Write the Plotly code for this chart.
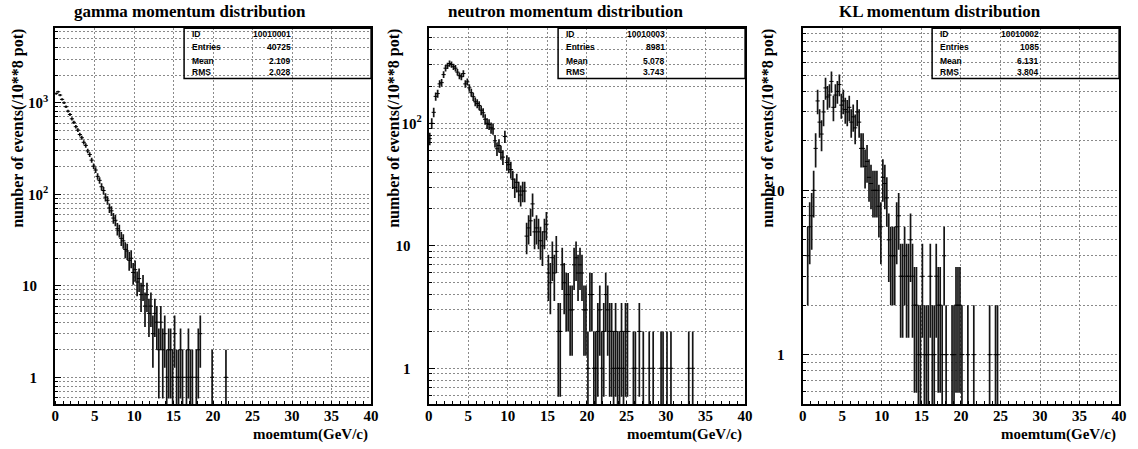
import numpy as np
import plotly.graph_objects as go

# ---------------- data ----------------
BIN_WIDTH = 0.25  # GeV/c, 160 bins on 0..40

titles = ["gamma momentum distribution", "neutron momentum distribution", "KL momentum distribution"]
hist_ids = ["10010001", "10010003", "10010002"]
entries = ["40725", "8981", "1085"]
means = ["2.109", "5.078", "6.131"]
rms_vals = ["2.028", "3.743", "3.804"]
x_title = "moemtum(GeV/c)"
y_title = "number of events(/10**8 pot)"
x_tick_vals = [0, 5, 10, 15, 20, 25, 30, 35, 40]

gamma_counts = [
    1260, 1320, 1215, 1090, 1000, 905, 810, 745, 668, 612, 548, 503, 450, 415, 370, 342,
    298, 272, 236, 203, 184, 157, 142, 121, 110, 93, 86, 71, 66, 55, 52, 42,
    40, 33, 31, 25, 24, 19, 20, 14, 15, 11, 12, 8, 10, 6, 8, 5,
    6, 3, 5, 4, 2, 4, 2, 3, 1, 2, 2, 1, 3, 1, 1, 2,
    1, 0, 1, 2, 1, 1, 0, 1, 2, 3, 0, 0, 0, 0, 0, 1,
    0, 0, 0, 0, 0, 0, 1,
]
neutron_counts = [
    75, 100, 123, 166, 175, 210, 215, 250, 282, 295, 308, 302, 290, 282, 262, 245,
    240, 255, 210, 218, 195, 178, 165, 150, 145, 140, 128, 122, 108, 100, 98, 92,
    90, 72, 62, 66, 58, 53, 78, 48, 46, 42, 35, 30, 33, 28, 26, 28,
    28, 12, 14, 16, 22, 13, 14, 13, 11, 10, 13, 15, 6, 5, 8, 6,
    9, 2, 2, 7, 5, 4, 4, 3, 3, 7, 8, 6, 7, 6, 3, 3,
    1, 4, 4, 1, 1, 2, 3, 1, 2, 4, 3, 2, 2, 1, 2, 1,
    1, 2, 1, 2, 2, 0, 0, 1, 1, 0, 2, 0, 1, 0, 0, 1,
    0, 1, 0, 0, 0, 1, 1, 0, 1, 0, 1, 0, 0, 0, 0, 0,
    0, 0, 0, 1, 0, 1,
]
kl_counts = [
    0, 0, 4, 6, 7, 10, 18, 35, 26, 22, 30, 42, 37, 38, 46, 32,
    38, 40, 44, 33, 35, 31, 30, 32, 26, 28, 24, 30, 26, 18, 18, 14,
    15, 12, 11, 10, 10, 10, 8, 6, 12, 11, 9, 5, 4, 4, 4, 6,
    7, 3, 3, 4, 3, 3, 5, 3, 2, 2, 1, 1, 3, 1, 1, 1,
    3, 1, 1, 3, 2, 2, 1, 4, 1, 0, 0, 1, 1, 2, 2, 2,
    1, 0, 0, 1, 0, 0, 1, 0, 0, 0, 0, 0, 0, 0, 1, 0, 0, 1, 1,
]
all_counts = [gamma_counts, neutron_counts, kl_counts]

# ---------------- layout constants ----------------
W, H = 1138, 449
x_dom_px = [(51.7, 371.0), (429.3, 749.0), (807.3, 1127.0)]
y_top_px, y_bot_px = 28.3, 404.3
y_log_ranges = [(-0.295, 3.814), (-0.294, 2.776), (-0.302, 1.986)]
title_cx = [188, 567, 946]
ytitle_x = [14, 394, 772]
SERIF = "Liberation Serif"
SANS = "Liberation Sans"
GRID = "#8a8a8a"
DASH = "2px,2px"
PAD = "\u00a0\u00a0\u00a0"

fig = go.Figure()


def log_ticks(lo, hi):
    major, text, minor = [], [], []
    for d in range(-1, 5):
        for m in range(1, 10):
            v = m * 10.0 ** d
            lv = np.log10(v)
            if lv < lo - 1e-9 or lv > hi + 1e-9:
                continue
            if m == 1:
                major.append(v)
                if d <= 0:
                    text.append("1" + PAD)
                elif d == 1:
                    text.append("10" + PAD)
                else:
                    text.append("10<sup>%d</sup>" % d)
            else:
                minor.append(v)
    return major, text, minor


for k in range(3):
    counts = np.array(all_counts[k], dtype=float)
    centers = (np.arange(len(counts)) + 0.5) * BIN_WIDTH
    mask = counts > 0
    xs = centers[mask]
    ys = counts[mask]
    errs = np.sqrt(ys)
    ax = "" if k == 0 else str(k + 1)
    fig.add_trace(go.Scatter(
        x=xs, y=ys, mode="markers",
        xaxis="x" + ax, yaxis="y" + ax,
        marker=dict(symbol="line-ew", size=3, color="black",
                    line=dict(color="black", width=1)),
        error_y=dict(type="data", array=errs, symmetric=True, width=0,
                     thickness=1.7, color="#151515"),
        showlegend=False, hoverinfo="skip",
    ))

    x0, x1 = x_dom_px[k]
    lo, hi = y_log_ranges[k]
    major, text, minor = log_ticks(lo, hi)
    fig.layout["xaxis" + ax] = dict(
        domain=[x0 / W, x1 / W], range=[0, 40], anchor="y" + ax,
        tickmode="array", tickvals=x_tick_vals,
        ticks="", showgrid=True, gridcolor=GRID, griddash=DASH, gridwidth=1,
        minor=dict(tickmode="linear", tick0=0, dtick=1, ticks="inside",
                   ticklen=3, tickcolor="black", tickwidth=1, showgrid=False),
        showline=True, linecolor="black", linewidth=2, mirror=True,
        zeroline=False,
        tickfont=dict(family=SERIF, size=15, color="black", weight="bold"),
        ticklabelstandoff=-3,
    )
    fig.layout["yaxis" + ax] = dict(
        domain=[(H - y_bot_px) / H, (H - y_top_px) / H], type="log",
        range=[lo, hi], anchor="x" + ax,
        tickmode="array", tickvals=major, ticktext=text,
        ticks="inside", ticklen=6, tickcolor="black", tickwidth=1,
        showgrid=True, gridcolor=GRID, griddash=DASH, gridwidth=1,
        minor=dict(tickmode="array", tickvals=minor, ticks="inside",
                   ticklen=3, tickcolor="black", tickwidth=1,
                   showgrid=True, gridcolor=GRID, griddash=DASH, gridwidth=1),
        showline=True, linecolor="black", linewidth=2, mirror=True,
        zeroline=False,
        tickfont=dict(family=SERIF, size=15, color="black", weight="bold"),
        ticklabelstandoff=2,
    )

    # panel title
    fig.add_annotation(x=title_cx[k] / W, y=(H - 12) / H, xref="paper", yref="paper",
                       text=titles[k], showarrow=False, xanchor="center", yanchor="middle",
                       font=dict(family=SERIF, size=17, color="black", weight="bold"))
    # x title
    fig.add_annotation(x=(x1 - 1) / W, y=(H - 434) / H, xref="paper", yref="paper",
                       text=x_title, showarrow=False, xanchor="right", yanchor="middle",
                       font=dict(family=SERIF, size=15, color="black", weight="bold"))
    # y title
    fig.add_annotation(x=ytitle_x[k] / W, y=(H - 128) / H, xref="paper", yref="paper",
                       text=y_title, showarrow=False, textangle=-90,
                       xanchor="center", yanchor="middle",
                       font=dict(family=SERIF, size=16, color="black", weight="bold"))

    # statistics box
    bx0 = x1 - 189
    by1 = 78.5
    fig.add_shape(type="rect", xref="paper", yref="paper",
                  x0=bx0 / W, x1=x1 / W, y0=(H - by1) / H, y1=(H - y_top_px) / H,
                  line=dict(color="black", width=1.5), fillcolor="rgba(0,0,0,0)")
    labels = ["ID", "Entries", "Mean", "RMS"]
    values = [hist_ids[k], entries[k], means[k], rms_vals[k]]
    rows_y = [34, 47, 60.5, 72]
    for lab, val, ry in zip(labels, values, rows_y):
        fig.add_annotation(x=(bx0 + 6) / W, y=(H - ry) / H, xref="paper", yref="paper",
                           text=lab, showarrow=False, xanchor="left", yanchor="middle",
                           font=dict(family=SANS, size=8.5, color="black", weight="bold"))
        fig.add_annotation(x=(bx0 + 110) / W, y=(H - ry) / H, xref="paper", yref="paper",
                           text=val, showarrow=False, xanchor="right", yanchor="middle",
                           font=dict(family=SANS, size=8.5, color="black", weight="bold"))

fig.update_layout(
    width=W, height=H, margin=dict(l=0, r=0, t=0, b=0),
    paper_bgcolor="white", plot_bgcolor="white",
    showlegend=False,
)

fig.write_html("out.html")
